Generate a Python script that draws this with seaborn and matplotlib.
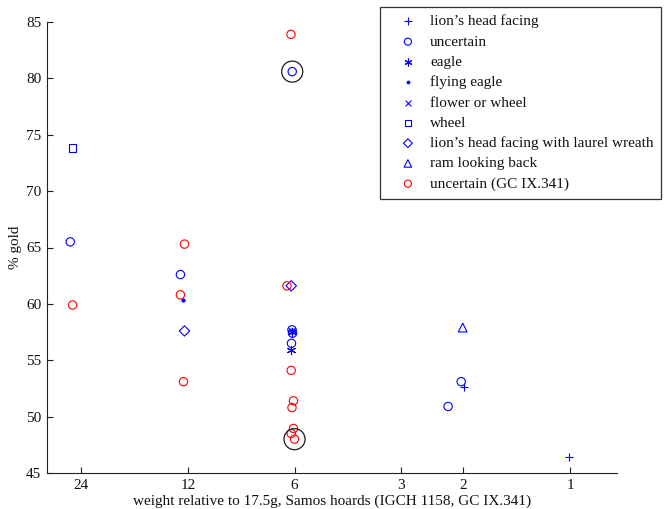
import matplotlib
matplotlib.use("Agg")
import matplotlib.pyplot as plt
import seaborn as sns
import numpy as np
import pandas as pd

# ---- data ----
lion_x = [1.99, 1.007]
lion_y = [52.65, 46.4]
unc_x = [25.8, 12.6, 6.09, 6.1, 6.08, 6.12, 2.03, 2.21]
unc_y = [65.5, 62.6, 80.6, 57.7, 57.4, 56.5, 53.1, 50.9]
eagle_x = [6.1, 6.12]
eagle_y = [57.5, 55.9]
feagle_x = [12.35]
feagle_y = [60.3]
flower_x = [6.1]
flower_y = [57.6]
wheel_x = [25.4]
wheel_y = [73.8]
laurel_x = [12.27, 6.13]
laurel_y = [57.6, 61.6]
ram_x = [2.01]
ram_y = [57.9]
gc_x = [25.4, 12.27, 12.6, 12.35, 6.14, 6.3, 6.13, 6.04, 6.1, 6.04, 6.13, 6.0]
gc_y = [59.9, 65.3, 60.8, 53.1, 83.9, 61.6, 54.1, 51.4, 50.8, 48.95, 48.5, 48.0]
hl_x = [6.09, 6.0]
hl_y = [80.6, 48.0]

labels = ["lion\u2019s head facing", "uncertain", "eagle", "flying eagle",
          "flower or wheel", "wheel", "lion\u2019s head facing with laurel wreath",
          "ram looking back", "uncertain (GC IX.341)"]
yticks = [45, 50, 55, 60, 65, 70, 75, 80, 85]
xticks = [24, 12, 6, 3, 2, 1]

sns.set_theme(style="white")
plt.rcParams['font.family'] = ['Liberation Serif', 'DejaVu Serif']

fig = plt.figure(figsize=(6.67, 5.09), dpi=100)
ax = fig.add_axes([47/667, 1-473/509, (617-47)/667, (473-22)/509])

B = (0, 0, 1)
R = (1, 0, 0)
lw = 0.8
asterisk = (6, 2, 0)
series = [
    (lion_x, lion_y, '+', B, False, 40),
    (unc_x, unc_y, 'o', B, True, 36),
    (eagle_x, eagle_y, asterisk, B, False, 36),
    (feagle_x, feagle_y, '.', B, False, 20),
    (flower_x, flower_y, 'x', B, False, 25),
    (wheel_x, wheel_y, 's', B, True, 30),
    (laurel_x, laurel_y, 'D', B, True, 28),
    (ram_x, ram_y, '^', B, True, 40),
    (gc_x, gc_y, 'o', R, True, 36),
]
for (xs, ys, m, c, filled, s), lab in zip(series, labels):
    if filled:
        sns.scatterplot(x=xs, y=ys, marker=m, s=s, color=c, facecolor='none',
                        edgecolor=c, linewidth=lw, ax=ax, label=lab)
    else:
        sns.scatterplot(x=xs, y=ys, marker=m, s=s, color=c, edgecolor=c,
                        linewidth=lw, ax=ax, label=lab)

sns.scatterplot(x=hl_x, y=hl_y, marker='o', s=230, color='k', facecolor='none',
                edgecolor='k', linewidth=0.9, ax=ax, label='_nolegend_')

ax.set_xscale('log')
ax.set_xlim(30, 0.737)
ax.set_ylim(45, 85)
ax.set_xticks(xticks)
ax.set_xticklabels([str(t) for t in xticks])
ax.xaxis.set_minor_locator(matplotlib.ticker.NullLocator())
ax.set_yticks(yticks)
ax.set_yticklabels([str(t) for t in yticks])

for sp in ['top', 'right']:
    ax.spines[sp].set_visible(False)
for sp in ['left', 'bottom']:
    ax.spines[sp].set_color('#222222')
    ax.spines[sp].set_linewidth(0.8)
ax.tick_params(axis='both', direction='in', length=4, width=0.8, color='#222222',
               labelsize=11, labelcolor='#111111', left=True, bottom=True, pad=4)

ax.set_xlabel("weight relative to 17.5g, Samos hoards (IGCH 1158, GC IX.341)",
              fontsize=11, color='#111111', labelpad=2)
ax.set_ylabel("% gold", fontsize=11, color='#111111', labelpad=3)

leg = ax.legend(loc='upper left', bbox_to_anchor=(380/667, 1-7/509),
                bbox_transform=fig.transFigure, frameon=True, fancybox=False,
                edgecolor='black', fontsize=11, labelspacing=0.43,
                handletextpad=0.12, borderpad=0.5, handlelength=2.65,
                borderaxespad=0, markerscale=0.85)
leg.get_frame().set_linewidth(0.9)
for t in leg.get_texts():
    t.set_color('#111111')

fig.savefig("out.png", dpi=100)
